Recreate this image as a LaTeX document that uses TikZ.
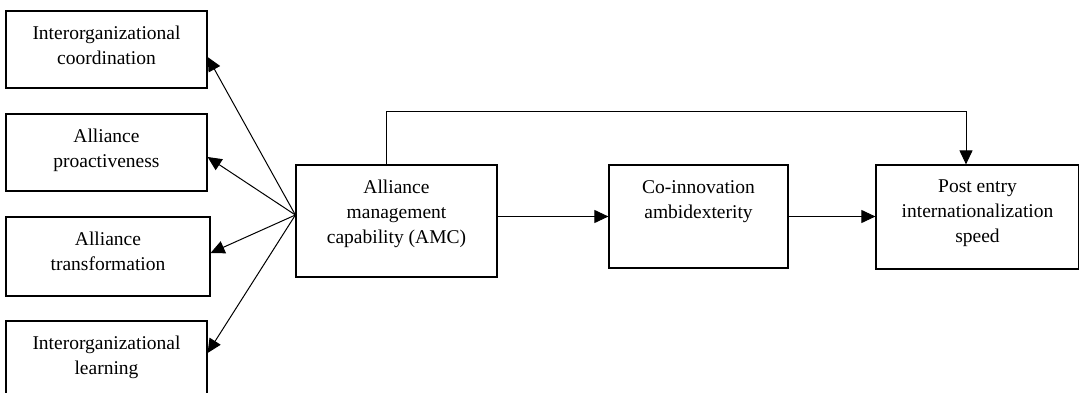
\documentclass[tikz,border=0pt]{standalone}
\usepackage{fontspec}
\setmainfont{Liberation Serif}
\usetikzlibrary{arrows.meta}

\begin{document}
\begin{tikzpicture}[x=1pt,y=-1pt,
    box/.style={draw, line width=1.2pt, inner sep=0pt},
    boxtext/.style={anchor=north, yshift=-12.5pt, align=center, inner sep=3pt,
        font=\fontsize{19.5}{25}\selectfont},
    link/.style={line width=1pt, -{Triangle[length=14pt,width=13pt]}}]
    \useasboundingbox (0,0) rectangle (1079,393);

    % AMC dimensions
    \node[box, minimum width=201pt, minimum height=77pt,
        label={[boxtext]north:{Interorganizational\\coordination}}] (ioc) at (106.5,49.5) {};
    \node[box, minimum width=201pt, minimum height=77pt,
        label={[boxtext]north:{Alliance\\proactiveness}}] (proact) at (106.5,152.5) {};
    \node[box, minimum width=204pt, minimum height=79pt,
        label={[boxtext]north:{Alliance\\transformation}}] (transf) at (108,256.5) {};
    \node[box, minimum width=201pt, minimum height=77pt,
        label={[boxtext]north:{Interorganizational\\learning}}] (iol) at (106.5,359.5) {};

    % Main chain
    \node[box, minimum width=201pt, minimum height=112pt,
        label={[boxtext]north:{Alliance\\management\\capability (AMC)}}] (amc) at (396.5,221) {};
    \node[box, minimum width=179pt, minimum height=103pt,
        label={[boxtext]north:{Co-innovation\\ambidexterity}}] (coin) at (698.5,216.5) {};
    \node[box, minimum width=203pt, minimum height=104pt,
        label={[boxtext]north:{Post entry\\internationalization\\speed}}] (post) at (977.5,217) {};

    % Fan to the dimensions
    \coordinate (fan) at ([yshift=6pt]amc.west);
    \draw[link] (fan) -- ([yshift=-7.5pt]ioc.east);
    \draw[link] (fan) -- ([yshift=-4.5pt]proact.east);
    \draw[link] (fan) -- ([yshift=3.5pt]transf.east);
    \draw[link] (fan) -- ([yshift=6.5pt]iol.east);

    % Mediation path
    \draw[link] (amc.east |- coin.west) -- (coin.west);
    \draw[link] (coin.east) -- (coin.east -| post.west);

    % Direct effect
    \draw[link] ([xshift=-10pt]amc.north) -- ++(0,-53) -| ([xshift=-11.5pt]post.north);
\end{tikzpicture}
\end{document}
